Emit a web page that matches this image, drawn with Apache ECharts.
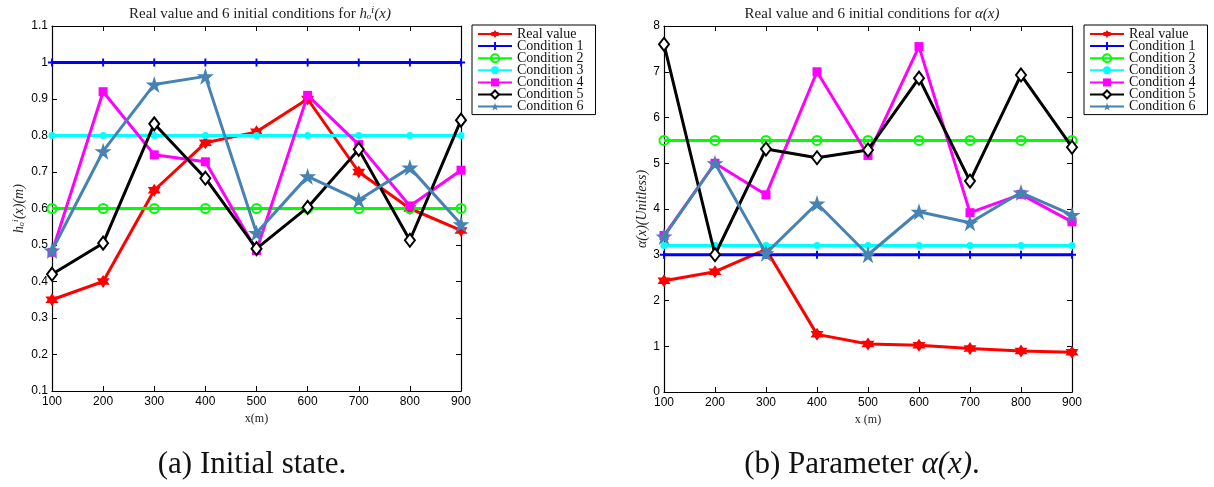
<!DOCTYPE html>
<html>
<head>
<meta charset="utf-8">
<script src="https://cdn.jsdelivr.net/npm/echarts@6/dist/echarts.min.js"></script>
<style>
html,body{margin:0;padding:0;background:#fff;}
#c{width:1214px;height:487px;}
</style>
</head>
<body>
<div id="c"></div>
<script>
// ---------- data ----------
const xs = [100, 200, 300, 400, 500, 600, 700, 800, 900];
const seriesNames = ['Real value', 'Condition 1', 'Condition 2', 'Condition 3', 'Condition 4', 'Condition 5', 'Condition 6'];

// (a) initial state h_o^i(x)
const hReal = [0.35, 0.40, 0.65, 0.78, 0.81, 0.90, 0.70, 0.60, 0.54];
const hCond1 = [1, 1, 1, 1, 1, 1, 1, 1, 1];
const hCond2 = [0.6, 0.6, 0.6, 0.6, 0.6, 0.6, 0.6, 0.6, 0.6];
const hCond3 = [0.8, 0.8, 0.8, 0.8, 0.8, 0.8, 0.8, 0.8, 0.8];
const hCond4 = [0.48, 0.92, 0.747, 0.728, 0.485, 0.91, 0.775, 0.607, 0.705];
const hCond5 = [0.42, 0.505, 0.832, 0.683, 0.49, 0.603, 0.762, 0.513, 0.842];
const hCond6 = [0.485, 0.757, 0.94, 0.962, 0.533, 0.688, 0.623, 0.712, 0.557];

// (b) parameter alpha(x)
const aReal = [2.43, 2.63, 3.12, 1.26, 1.05, 1.02, 0.95, 0.895, 0.87];
const aCond1 = [3, 3, 3, 3, 3, 3, 3, 3, 3];
const aCond2 = [5.5, 5.5, 5.5, 5.5, 5.5, 5.5, 5.5, 5.5, 5.5];
const aCond3 = [3.2, 3.2, 3.2, 3.2, 3.2, 3.2, 3.2, 3.2, 3.2];
const aCond4 = [3.42, 5.0, 4.31, 7.0, 5.17, 7.55, 3.92, 4.32, 3.72];
const aCond5 = [7.6, 3.0, 5.31, 5.12, 5.29, 6.86, 4.61, 6.93, 5.35];
const aCond6 = [3.4, 5.0, 3.03, 4.12, 3.0, 3.94, 3.70, 4.36, 3.87];

const hTicks = {min: 0.1, max: 1.1, interval: 0.1};
const aTicks = {min: 0, max: 8, interval: 1};
const xTicks = {min: 100, max: 900, interval: 100};

// ---------- styles ----------
const SERIF = "'Liberation Serif', 'DejaVu Serif', serif";
const SANS = "'Liberation Sans', Arial, sans-serif";
const HEX = 'path://M0,-10 L2.887,-5 L8.66,-5 L5.774,0 L8.66,5 L2.887,5 L0,10 L-2.887,5 L-8.66,5 L-5.774,0 L-8.66,-5 L-2.887,-5 Z';
const PENTA = 'path://M0,-10 L2.245,-3.09 L9.511,-3.09 L3.633,1.18 L5.878,8.09 L0,3.82 L-5.878,8.09 L-3.633,1.18 L-9.511,-3.09 L-2.245,-3.09 Z';
const PLUS = 'path://M-1.2,-5 L1.2,-5 L1.2,-1.2 L5,-1.2 L5,1.2 L1.2,1.2 L1.2,5 L-1.2,5 L-1.2,1.2 L-5,1.2 L-5,-1.2 L-1.2,-1.2 Z';

const styles = [
  {color: '#ff0000', symbol: HEX, size: 13, fill: '#ff0000', bw: 0},
  {color: '#0000ff', symbol: PLUS, size: 8, fill: '#0000ff', bw: 0},
  {color: '#00ff00', symbol: 'circle', size: 9, fill: 'rgba(255,255,255,0)', bw: 2},
  {color: '#00ffff', symbol: 'circle', size: 7, fill: '#00ffff', bw: 0},
  {color: '#ff00ff', symbol: 'rect', size: 9, fill: '#ff00ff', bw: 0},
  {color: '#000000', symbol: 'diamond', size: [10, 13], fill: '#ffffff', bw: 2},
  {color: '#4682b4', symbol: PENTA, size: 17, fill: '#4682b4', bw: 0}
];

function pairs(vals) { return xs.map((x, i) => [x, vals[i]]); }

function makeSeries(dataSets, axisIdx) {
  return dataSets.map((vals, k) => {
    const s = styles[k];
    return {
      name: seriesNames[k],
      type: 'line',
      xAxisIndex: axisIdx,
      yAxisIndex: axisIdx,
      data: pairs(vals),
      symbol: s.symbol,
      symbolSize: s.size,
      showAllSymbol: true,
      lineStyle: {color: s.color, width: 3},
      itemStyle: {color: s.fill, borderColor: s.color, borderWidth: s.bw},
      emphasis: {disabled: true},
      z: 2 + k,
      animation: false
    };
  });
}

function xAxisPair(gridIndex, name) {
  const base = {
    gridIndex, type: 'value', min: xTicks.min, max: xTicks.max, interval: xTicks.interval,
    axisLine: {show: true, onZero: false, lineStyle: {color: '#000', width: 1.2}},
    axisTick: {show: true, inside: true, length: 5, lineStyle: {color: '#000'}},
    splitLine: {show: false}
  };
  return [
    Object.assign({}, base, {
      position: 'bottom',
      axisLabel: {color: '#000', fontSize: 12, fontFamily: SANS, margin: 5, showMinLabel: true, showMaxLabel: true},
      name: name, nameLocation: 'middle', nameGap: 22,
      nameTextStyle: {fontFamily: SERIF, fontSize: 12, color: '#222'}
    }),
    Object.assign({}, base, {position: 'top', axisLabel: {show: false}})
  ];
}

function yAxisPair(gridIndex, ticks, name, nameGap) {
  const base = {
    gridIndex, type: 'value', min: ticks.min, max: ticks.max, interval: ticks.interval,
    axisLine: {show: true, onZero: false, lineStyle: {color: '#000', width: 1.2}},
    axisTick: {show: true, inside: true, length: 5, lineStyle: {color: '#000'}},
    splitLine: {show: false}
  };
  return [
    Object.assign({}, base, {
      position: 'left',
      axisLabel: {color: '#000', fontSize: 12, fontFamily: SANS, margin: 4, showMinLabel: true, showMaxLabel: true},
      name: name, nameLocation: 'middle', nameGap: nameGap,
      nameTextStyle: {fontFamily: SERIF, fontSize: 14, fontStyle: 'italic', color: '#222'}
    }),
    Object.assign({}, base, {position: 'right', axisLabel: {show: false}})
  ];
}

function legendAt(left) {
  return {
    left: left, top: 25, orient: 'vertical',
    data: seriesNames,
    borderColor: '#000', borderWidth: 1, backgroundColor: '#fff',
    padding: [2, 12, 1, 5],
    itemGap: -1.9, itemWidth: 34, itemHeight: 10,
    textStyle: {fontFamily: SERIF, fontSize: 14, color: '#111'},
    selectedMode: false
  };
}

const chart = echarts.init(document.getElementById('c'), null, {renderer: 'canvas'});
const xa0 = xAxisPair(0, 'x(m)');
const xa1 = xAxisPair(1, 'x (m)');
const ya0 = yAxisPair(0, hTicks, 'hₒⁱ(x)(m)', 26);
const ya1 = yAxisPair(1, aTicks, 'α(x)(Unitless)', 13);

const titleStyle = {fontFamily: SERIF, fontSize: 15, fontWeight: 'normal', color: '#222',
  rich: {i: {fontFamily: SERIF, fontSize: 15, fontStyle: 'italic', color: '#222'}}};

const option = {
  backgroundColor: '#fff',
  animation: false,
  title: [
    {text: 'Real value and 6 initial conditions for {i|hₒⁱ(x)}', left: 255, top: 2, textAlign: 'center', textStyle: titleStyle},
    {text: 'Real value and 6 initial conditions for {i|α(x)}', left: 867, top: 2, textAlign: 'center', textStyle: titleStyle}
  ],
  grid: [
    {left: 52, right: 753, top: 26, bottom: 96, containLabel: false},
    {left: 664, right: 142, top: 26, bottom: 95, containLabel: false}
  ],
  xAxis: [xa0[0], xa0[1], xa1[0], xa1[1]],
  yAxis: [ya0[0], ya0[1], ya1[0], ya1[1]],
  legend: [legendAt(472), legendAt(1084)],
  series: []
};

option.series = option.series
  .concat(makeSeries([hReal, hCond1, hCond2, hCond3, hCond4, hCond5, hCond6], 0))
  .concat(makeSeries([aReal, aCond1, aCond2, aCond3, aCond4, aCond5, aCond6], 2));

option.graphic = [
  {type: 'text', x: 252, y: 465, silent: true,
   style: {text: '(a) Initial state.', fontFamily: SERIF, fontSize: 31, fill: '#111', align: 'center', verticalAlign: 'middle'}},
  {type: 'text', x: 862, y: 465, silent: true,
   style: {text: '(b) Parameter {i|α(x)}.', fontFamily: SERIF, fontSize: 31, fill: '#111', align: 'center', verticalAlign: 'middle',
     rich: {i: {fontFamily: SERIF, fontSize: 31, fontStyle: 'italic', fill: '#111'}}}}
];

chart.setOption(option);
</script>
</body>
</html>
